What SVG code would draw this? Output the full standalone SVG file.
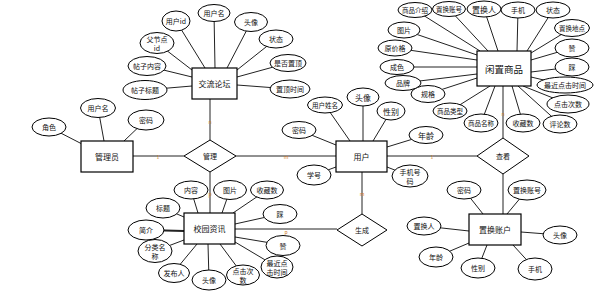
<svg xmlns="http://www.w3.org/2000/svg" width="603" height="298" viewBox="0 0 603 298">
<style>
.e{fill:#fff;stroke:#000;stroke-width:1}
.b{fill:#fff;stroke:#000;stroke-width:1.2}
.d{fill:#fff;stroke:#000;stroke-width:1}
text{font-family:"Noto Sans CJK SC","Noto Sans",sans-serif;font-size:7px;text-anchor:middle;dominant-baseline:central;fill:#111}
.t8{font-size:8px}
.ts{font-size:6.5px}
.tb{font-size:9.5px}
.lbl{font-size:5px;fill:#d07a28}
#connectors line{stroke:#222;stroke-width:1}
</style>
<rect width="603" height="298" fill="#fff"/>
<g id="connectors">
<line x1="133" y1="156" x2="184" y2="156"/>
<line x1="236" y1="156" x2="336" y2="156"/>
<line x1="210" y1="99" x2="210" y2="140"/>
<line x1="210" y1="172" x2="210" y2="213"/>
<line x1="235" y1="229" x2="337" y2="229"/>
<line x1="362" y1="172" x2="362" y2="214"/>
<line x1="387" y1="156" x2="477" y2="156"/>
<line x1="503" y1="138" x2="503" y2="86"/>
<line x1="503" y1="174" x2="503" y2="214"/>
<line x1="176" y1="21" x2="205" y2="68"/>
<line x1="214" y1="13" x2="215" y2="68"/>
<line x1="251" y1="22" x2="227" y2="68"/>
<line x1="276" y1="39" x2="237" y2="70"/>
<line x1="288" y1="63" x2="237" y2="77"/>
<line x1="290" y1="89" x2="237" y2="85"/>
<line x1="157" y1="43" x2="192" y2="70"/>
<line x1="147" y1="66" x2="192" y2="77"/>
<line x1="145" y1="90" x2="192" y2="86"/>
<line x1="49" y1="127" x2="82" y2="144"/>
<line x1="98" y1="108" x2="104" y2="141"/>
<line x1="146" y1="120" x2="124" y2="141"/>
<line x1="299" y1="130" x2="336" y2="145"/>
<line x1="325" y1="105" x2="350" y2="141"/>
<line x1="363" y1="97" x2="363" y2="141"/>
<line x1="391" y1="111" x2="373" y2="141"/>
<line x1="426" y1="135" x2="387" y2="147"/>
<line x1="314" y1="175" x2="336" y2="167"/>
<line x1="410" y1="176" x2="387" y2="167"/>
<line x1="415" y1="10" x2="480" y2="51"/>
<line x1="449" y1="9" x2="488" y2="51"/>
<line x1="484" y1="9" x2="498" y2="51"/>
<line x1="518" y1="10" x2="517" y2="51"/>
<line x1="553" y1="10" x2="527" y2="51"/>
<line x1="572" y1="28" x2="531" y2="53"/>
<line x1="572" y1="48" x2="531" y2="60"/>
<line x1="572" y1="67" x2="531" y2="72"/>
<line x1="565" y1="85" x2="531" y2="77"/>
<line x1="568" y1="104" x2="523" y2="86"/>
<line x1="560" y1="124" x2="518" y2="86"/>
<line x1="523" y1="123" x2="512" y2="86"/>
<line x1="481" y1="123" x2="495" y2="86"/>
<line x1="450" y1="111" x2="490" y2="86"/>
<line x1="428" y1="94" x2="477" y2="78"/>
<line x1="403" y1="83" x2="477" y2="74"/>
<line x1="397" y1="67" x2="477" y2="67"/>
<line x1="395" y1="48" x2="477" y2="60"/>
<line x1="404" y1="30" x2="477" y2="55"/>
<line x1="191" y1="190" x2="198" y2="213"/>
<line x1="230" y1="190" x2="222" y2="213"/>
<line x1="267" y1="190" x2="233" y2="213"/>
<line x1="280" y1="214" x2="235" y2="224"/>
<line x1="283" y1="245" x2="235" y2="237"/>
<line x1="277" y1="267" x2="235" y2="242"/>
<line x1="243" y1="275" x2="220" y2="244"/>
<line x1="209" y1="280" x2="208" y2="244"/>
<line x1="173" y1="273" x2="197" y2="244"/>
<line x1="155" y1="251" x2="184" y2="240"/>
<line x1="146" y1="230" x2="184" y2="231" style="stroke-width:2"/>
<line x1="163" y1="208" x2="184" y2="217"/>
<line x1="464" y1="190" x2="483" y2="214"/>
<line x1="527" y1="190" x2="507" y2="214"/>
<line x1="424" y1="226" x2="469" y2="231"/>
<line x1="560" y1="235" x2="521" y2="232"/>
<line x1="436" y1="257" x2="469" y2="243"/>
<line x1="478" y1="268" x2="487" y2="245"/>
<line x1="535" y1="269" x2="513" y2="245"/>
<text class="lbl" x="158" y="156">1</text>
<text class="lbl" x="286" y="156">m</text>
<text class="lbl" x="210" y="121">n</text>
<text class="lbl" x="210" y="193">p</text>
<text class="lbl" x="286" y="231">p</text>
<text class="lbl" x="362" y="193">m</text>
<text class="lbl" x="432" y="156">1</text>
<text class="lbl" x="503" y="113">n</text>
</g>

<g id="rel-guanli"><polygon class="d" points="184,156 210,140 236,156 210,172"/><text x="210" y="156">管理</text></g>
<g id="rel-shengcheng"><polygon class="d" points="337,230 362,214 387,230 362,246"/><text x="362" y="230">生成</text></g>
<g id="rel-chakan"><polygon class="d" points="477,156 503,138 529,156 503,174"/><text x="503" y="156">查看</text></g>

<g id="ent-luntan"><rect class="b" x="192" y="68" width="45" height="31"/><text class="t8" x="214.5" y="83.5">交流论坛</text></g>
<g id="ent-admin"><rect class="b" x="81" y="141" width="52" height="31"/><text class="t8" x="107" y="156.5">管理员</text></g>
<g id="ent-user"><rect class="b" x="336" y="141" width="51" height="31"/><text class="t8" x="361.5" y="156.5">用户</text></g>
<g id="ent-goods"><rect class="b" x="477" y="51" width="54" height="35"/><text class="tb" x="504" y="68.5">闲置商品</text></g>
<g id="ent-news"><rect class="b" x="184" y="213" width="51" height="31"/><text class="t8" x="209.5" y="228.5">校园资讯</text></g>
<g id="ent-account"><rect class="b" x="469" y="214" width="52" height="31"/><text class="t8" x="495" y="229.5">置换账户</text></g>

<g id="a-lt-uid"><ellipse class="e" cx="176" cy="21" rx="14" ry="10"/><text x="176" y="21">用户id</text></g>
<g id="a-lt-uname"><ellipse class="e" cx="214" cy="13" rx="16" ry="8.5"/><text x="214" y="13">用户名</text></g>
<g id="a-lt-avatar"><ellipse class="e" cx="251" cy="22" rx="16.5" ry="9.5"/><text x="251" y="22">头像</text></g>
<g id="a-lt-status"><ellipse class="e" cx="276" cy="39" rx="17" ry="9"/><text x="276" y="39">状态</text></g>
<g id="a-lt-top"><ellipse class="e" cx="288" cy="63" rx="18" ry="8.5"/><text x="288" y="63">是否置顶</text></g>
<g id="a-lt-toptime"><ellipse class="e" cx="290" cy="89" rx="20" ry="9"/><text x="290" y="89">置顶时间</text></g>
<g id="a-lt-parent"><ellipse class="e" cx="157" cy="43" rx="17" ry="10.5"/><text x="157" y="38.5">父节点</text><text x="157" y="47.5">id</text></g>
<g id="a-lt-content"><ellipse class="e" cx="147" cy="66" rx="19" ry="9.5"/><text x="147" y="66">帖子内容</text></g>
<g id="a-lt-title"><ellipse class="e" cx="145" cy="90" rx="22" ry="9.5"/><text x="145" y="90">帖子标题</text></g>

<g id="a-ad-role"><ellipse class="e" cx="49" cy="127" rx="17" ry="9"/><text x="49" y="127">角色</text></g>
<g id="a-ad-uname"><ellipse class="e" cx="98" cy="108" rx="17.5" ry="9.5"/><text x="98" y="108">用户名</text></g>
<g id="a-ad-pwd"><ellipse class="e" cx="146" cy="120" rx="18" ry="10"/><text x="146" y="120">密码</text></g>

<g id="a-u-pwd"><ellipse class="e" cx="299" cy="130" rx="17" ry="8.5"/><text x="299" y="130">密码</text></g>
<g id="a-u-name"><ellipse class="e" cx="325" cy="105" rx="17.5" ry="8"/><text class="ts" x="325" y="105">用户姓名</text></g>
<g id="a-u-avatar"><ellipse class="e" cx="363" cy="97" rx="16" ry="9"/><text class="t8" x="363" y="97">头像</text></g>
<g id="a-u-sex"><ellipse class="e" cx="391" cy="111" rx="14" ry="9"/><text class="t8" x="391" y="111">性别</text></g>
<g id="a-u-age"><ellipse class="e" cx="426" cy="135" rx="17" ry="8.5"/><text class="t8" x="426" y="135">年龄</text></g>
<g id="a-u-sno"><ellipse class="e" cx="314" cy="175" rx="17" ry="10"/><text x="314" y="175">学号</text></g>
<g id="a-u-phone"><ellipse class="e" cx="410" cy="176" rx="18" ry="11"/><text x="410" y="171.5">手机号</text><text x="410" y="180.5">码</text></g>

<g id="a-g-intro"><ellipse class="e" cx="415" cy="10" rx="17" ry="7.5"/><text class="ts" x="415" y="10">商品介绍</text></g>
<g id="a-g-acc"><ellipse class="e" cx="449" cy="9" rx="16.5" ry="7.5"/><text class="ts" x="449" y="9">置换账号</text></g>
<g id="a-g-person"><ellipse class="e" cx="484" cy="9" rx="17" ry="8"/><text class="t8" x="484" y="9">置换人</text></g>
<g id="a-g-phone"><ellipse class="e" cx="518" cy="10" rx="17" ry="8"/><text x="518" y="10">手机</text></g>
<g id="a-g-status"><ellipse class="e" cx="553" cy="10" rx="17" ry="8"/><text x="553" y="10">状态</text></g>
<g id="a-g-place"><ellipse class="e" cx="572" cy="28" rx="17.5" ry="8.5"/><text class="ts" x="572" y="28">置换地点</text></g>
<g id="a-g-like"><ellipse class="e" cx="572" cy="48" rx="17" ry="9"/><text x="572" y="48">赞</text></g>
<g id="a-g-dislike"><ellipse class="e" cx="572" cy="67" rx="17" ry="9"/><text x="572" y="67">踩</text></g>
<g id="a-g-lastclick"><ellipse class="e" cx="565" cy="85" rx="28" ry="8"/><text x="565" y="85">最近点击时间</text></g>
<g id="a-g-clicks"><ellipse class="e" cx="568" cy="104" rx="21" ry="9"/><text x="568" y="104">点击次数</text></g>
<g id="a-g-comments"><ellipse class="e" cx="560" cy="124" rx="17" ry="9"/><text x="560" y="124">评论数</text></g>
<g id="a-g-fav"><ellipse class="e" cx="523" cy="123" rx="17" ry="9"/><text x="523" y="123">收藏数</text></g>
<g id="a-g-name"><ellipse class="e" cx="481" cy="123" rx="17" ry="9"/><text class="ts" x="481" y="123">商品名称</text></g>
<g id="a-g-type"><ellipse class="e" cx="450" cy="111" rx="17" ry="8"/><text class="ts" x="450" y="111">商品类型</text></g>
<g id="a-g-spec"><ellipse class="e" cx="428" cy="94" rx="17" ry="8.5"/><text x="428" y="94">规格</text></g>
<g id="a-g-brand"><ellipse class="e" cx="403" cy="83" rx="18" ry="7.5"/><text x="403" y="83">品牌</text></g>
<g id="a-g-cond"><ellipse class="e" cx="397" cy="67" rx="17" ry="7.5"/><text x="397" y="67">成色</text></g>
<g id="a-g-price"><ellipse class="e" cx="395" cy="48" rx="17" ry="8"/><text x="395" y="48">原价格</text></g>
<g id="a-g-pic"><ellipse class="e" cx="404" cy="30" rx="16" ry="8"/><text x="404" y="30">图片</text></g>

<g id="a-n-content"><ellipse class="e" cx="191" cy="190" rx="17" ry="9"/><text x="191" y="190">内容</text></g>
<g id="a-n-pic"><ellipse class="e" cx="230" cy="190" rx="16.5" ry="9.5"/><text x="230" y="190">图片</text></g>
<g id="a-n-fav"><ellipse class="e" cx="267" cy="190" rx="16.5" ry="9"/><text x="267" y="190">收藏数</text></g>
<g id="a-n-dislike"><ellipse class="e" cx="280" cy="214" rx="17" ry="9.5"/><text x="280" y="214">踩</text></g>
<g id="a-n-like"><ellipse class="e" cx="283" cy="245.5" rx="17" ry="10"/><text x="283" y="245.5">赞</text></g>
<g id="a-n-lastclick"><ellipse class="e" cx="277" cy="267" rx="16" ry="11"/><text x="277" y="262.5">最近点</text><text x="277" y="271.5">击时间</text></g>
<g id="a-n-clicks"><ellipse class="e" cx="243" cy="275" rx="16.5" ry="10"/><text x="243" y="270.5">点击次</text><text x="243" y="279.5">数</text></g>
<g id="a-n-avatar"><ellipse class="e" cx="209" cy="280" rx="17" ry="10"/><text x="209" y="280">头像</text></g>
<g id="a-n-author"><ellipse class="e" cx="174" cy="273" rx="15.5" ry="9.5"/><text x="174" y="273">发布人</text></g>
<g id="a-n-cat"><ellipse class="e" cx="155" cy="251" rx="17" ry="11.5"/><text x="155" y="246.5">分类名</text><text x="155" y="255.5">称</text></g>
<g id="a-n-brief"><ellipse class="e" cx="146" cy="230" rx="18" ry="10"/><text x="146" y="230">简介</text></g>
<g id="a-n-title"><ellipse class="e" cx="163" cy="208" rx="17" ry="10"/><text x="163" y="208">标题</text></g>

<g id="a-a-pwd"><ellipse class="e" cx="464" cy="190" rx="17" ry="9"/><text x="464" y="190">密码</text></g>
<g id="a-a-acc"><ellipse class="e" cx="527" cy="190" rx="19" ry="10"/><text x="527" y="190">置换账号</text></g>
<g id="a-a-person"><ellipse class="e" cx="424" cy="226" rx="17" ry="9"/><text x="424" y="226">置换人</text></g>
<g id="a-a-avatar"><ellipse class="e" cx="560" cy="235" rx="17" ry="9"/><text x="560" y="235">头像</text></g>
<g id="a-a-age"><ellipse class="e" cx="436" cy="257" rx="17" ry="10"/><text x="436" y="257">年龄</text></g>
<g id="a-a-sex"><ellipse class="e" cx="478" cy="268" rx="17" ry="10"/><text x="478" y="268">性别</text></g>
<g id="a-a-phone"><ellipse class="e" cx="535" cy="269" rx="17" ry="11"/><text x="535" y="269">手机</text></g>
</svg>
